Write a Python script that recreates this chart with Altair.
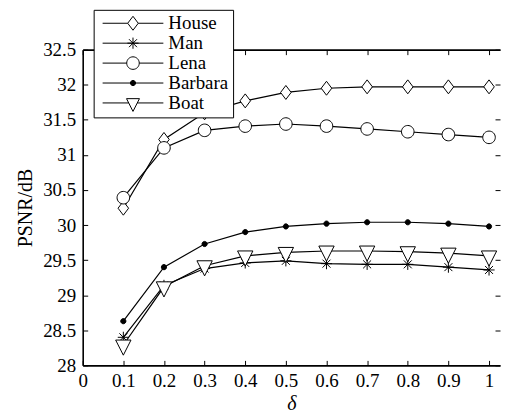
import altair as alt
import pandas as pd

# ---- data ----
delta = [0.1, 0.2, 0.3, 0.4, 0.5, 0.6, 0.7, 0.8, 0.9, 1.0]
series_names = ["House", "Man", "Lena", "Barbara", "Boat"]
house = [30.24, 31.22, 31.60, 31.77, 31.89, 31.95, 31.97, 31.97, 31.97, 31.97]
man = [28.40, 29.14, 29.38, 29.46, 29.49, 29.45, 29.44, 29.44, 29.40, 29.36]
lena = [30.39, 31.10, 31.35, 31.41, 31.44, 31.41, 31.37, 31.33, 31.29, 31.25]
barbara = [28.63, 29.40, 29.73, 29.90, 29.98, 30.02, 30.04, 30.04, 30.02, 29.98]
boat = [28.29, 29.12, 29.42, 29.56, 29.61, 29.63, 29.63, 29.62, 29.60, 29.56]
x_ticks = [0, 0.1, 0.2, 0.3, 0.4, 0.5, 0.6, 0.7, 0.8, 0.9, 1.0]
y_ticks = [28, 28.5, 29, 29.5, 30, 30.5, 31, 31.5, 32, 32.5]

rows = []
for name, vals in zip(series_names, [house, man, lena, barbara, boat]):
    for d, v in zip(delta, vals):
        rows.append({"delta": d, "psnr": v, "series": name})
df = pd.DataFrame(rows)

W, H = 419, 317
FONT = "Liberation Serif"


def marker_paths(r, half_line=None, tri=(7.7, 5.0, 10.2)):
    def p(v):
        return f"{v / r:.4f}"

    def seg(gap):
        if half_line is None:
            return ""
        if gap == 0:
            return f"M{p(-half_line)},0L{p(half_line)},0"
        return f"M{p(-half_line)},0L{p(-gap)},0M{p(gap)},0L{p(half_line)},0"

    def circ(a):
        return (f"M{p(-a)},0A{p(a)},{p(a)},0,1,1,{p(a)},0"
                f"A{p(a)},{p(a)},0,1,1,{p(-a)},0Z")

    diamond = seg(5.3) + f"M0,{p(-7)}L{p(5.3)},0L0,{p(7)}L{p(-5.3)},0Z"
    a, d = 5.6, 4.0
    aster = seg(0) + (f"M0,{p(-a)}L0,{p(a)}M{p(-a)},0L{p(a)},0"
                      f"M{p(-d)},{p(-d)}L{p(d)},{p(d)}M{p(-d)},{p(d)}L{p(d)},{p(-d)}")
    circle = seg(6.3) + circ(6.3)
    dot = seg(0) + circ(2.6)
    tw, tt, tb = tri
    tgap = tw * tb / (tb + tt)
    triangle = seg(tgap) + f"M{p(-tw)},{p(-tt)}L{p(tw)},{p(-tt)}L0,{p(tb)}Z"
    return [diamond, aster, circle, dot, triangle]


point_paths = marker_paths(7)
legend_paths = marker_paths(2, half_line=30.5, tri=(6.5, 4.3, 8.5))
fills = ["white", "white", "white", "black", "white"]

xscale = alt.Scale(domain=[0, 1.027], nice=False, zero=False)
yscale = alt.Scale(domain=[28, 32.5], nice=False, zero=False)

common = dict(grid=False, domainColor="black", tickColor="black", labelColor="black",
              titleColor="black", labelFont=FONT, titleFont=FONT, labelFontSize=19,
              titleFontSize=20, titleFontWeight="normal", domainWidth=1.6, tickWidth=1)

ax_bottom = alt.Axis(orient="bottom", values=x_ticks, format="~f", ticks=False, tickSize=0,
                     labelPadding=6, title="δ", titleFontStyle="italic", titlePadding=3,
                     labelFlush=False, **common)
ax_left = alt.Axis(orient="left", values=y_ticks, format="~f", ticks=False, tickSize=0,
                   labelPadding=7, title="PSNR/dB", titlePadding=7, **common)
ax_x_in_bottom = alt.Axis(orient="top", offset=-H, values=x_ticks, labels=False,
                          domain=False, tickSize=5, title=None, **common)
ax_y_in_left = alt.Axis(orient="right", offset=-W, values=y_ticks, labels=False,
                        domain=False, tickSize=5, title=None, **common)
ax_x_top = alt.Axis(orient="bottom", offset=-H, values=x_ticks, labels=False,
                    domain=True, tickSize=5, title=None, **common)
ax_y_right = alt.Axis(orient="left", offset=-W, values=y_ticks, labels=False,
                      domain=False, tickSize=5, title=None, **common)

leg = alt.Legend(title=None, orient="none", legendX=11, legendY=-40, symbolSize=16,
                 symbolStrokeWidth=1, symbolOffset=26, labelOffset=26, labelFont=FONT,
                 labelFontSize=19, labelColor="black", rowPadding=-3, padding=4,
                 strokeColor="black", fillColor="white", cornerRadius=0)

base = alt.Chart(df)

lines = base.mark_line(color="black", strokeWidth=1.2).encode(
    x=alt.X("delta:Q", scale=xscale, axis=ax_bottom),
    y=alt.Y("psnr:Q", scale=yscale, axis=ax_left),
    detail="series:N",
)

points = base.mark_point(filled=True, size=196, stroke="black", strokeWidth=1,
                         opacity=1).encode(
    x=alt.X("delta:Q", scale=xscale, axis=ax_x_in_bottom),
    y=alt.Y("psnr:Q", scale=yscale, axis=ax_y_in_left),
    shape=alt.Shape("series:N", scale=alt.Scale(domain=series_names, range=point_paths),
                    legend=None),
    fill=alt.Fill("series:N", scale=alt.Scale(domain=series_names, range=fills),
                  legend=None),
)

legend_layer = base.transform_filter("false").mark_point(
    filled=True, size=16, strokeWidth=1, opacity=1).encode(
    x=alt.X("delta:Q", scale=xscale, axis=ax_x_top),
    y=alt.Y("psnr:Q", scale=yscale, axis=ax_y_right),
    shape=alt.Shape("series:N", scale=alt.Scale(domain=series_names, range=legend_paths),
                    legend=leg),
    fill=alt.Fill("series:N", scale=alt.Scale(domain=series_names, range=fills),
                  legend=leg),
    stroke=alt.Stroke("series:N", scale=alt.Scale(domain=series_names, range=["black"] * 5),
                      legend=leg),
)

chart = alt.layer(lines, points, legend_layer).resolve_axis(
    x="independent", y="independent"
).resolve_scale(
    shape="independent", fill="independent", stroke="independent"
).properties(
    width=W, height=H, background="white",
    padding={"left": 7, "top": 0, "right": 0, "bottom": 0},
).configure_view(stroke=None).configure_legend(rowPadding=-3)

chart.save("out.html", embed_options={"renderer": "svg", "actions": False})
